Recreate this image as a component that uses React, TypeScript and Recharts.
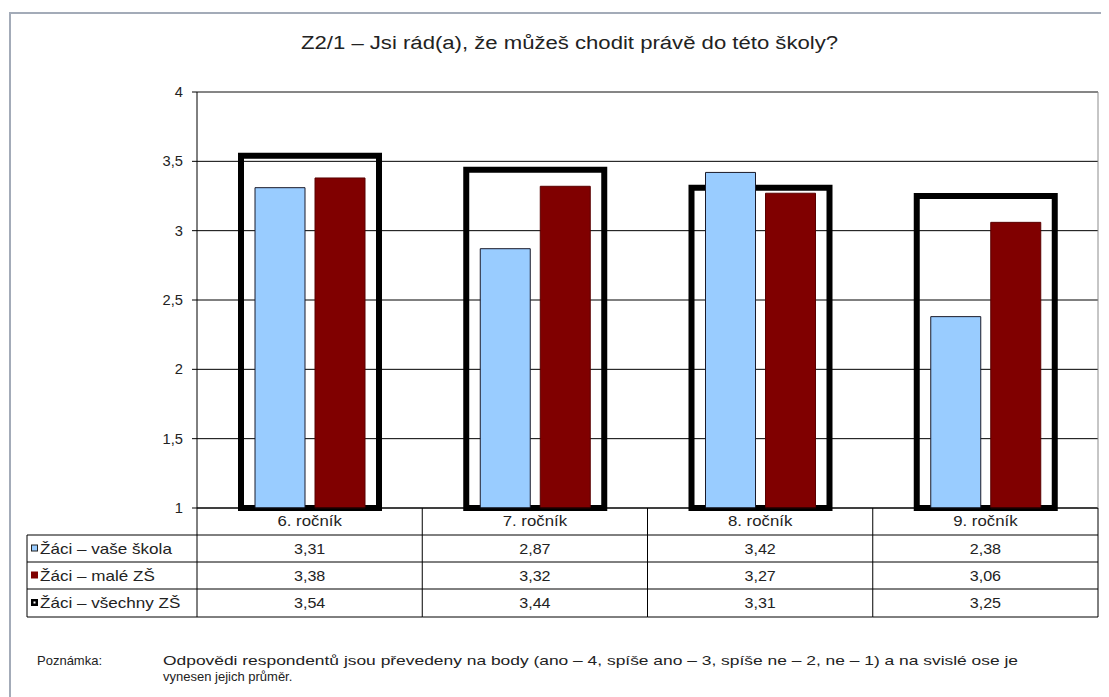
import React from 'react';
import { BarChart, Bar, XAxis, YAxis, CartesianGrid, ReferenceLine } from 'recharts';

const categories = ['6. ročník', '7. ročník', '8. ročník', '9. ročník'];
const vaseSkola = [3.31, 2.87, 3.42, 2.38];
const maleZS = [3.38, 3.32, 3.27, 3.06];
const vsechnyZS = [3.54, 3.44, 3.31, 3.25];
const seriesNames = ['Žáci – vaše škola', 'Žáci – malé ZŠ', 'Žáci – všechny ZŠ'];
const yTicks = [1, 1.5, 2, 2.5, 3, 3.5, 4];
const title = 'Z2/1 – Jsi rád(a), že můžeš chodit právě do této školy?';
const noteLabel = 'Poznámka:';
const noteLines = [
  'Odpovědi respondentů jsou převedeny na body (ano – 4, spíše ano – 3, spíše ne – 2, ne – 1) a na svislé ose je',
  'vynesen jejich průměr.',
];

const data = categories.map((c, i) => ({
  cat: c,
  vase: vaseSkola[i],
  male: maleZS[i],
  vsechny: vsechnyZS[i],
}));

const W = 1109;
const H = 697;
const PLOT_L = 197;
const PLOT_R = 1098;
const PLOT_T = 92;
const PLOT_B = 508;
const TABLE_H = 109;
const CW = (PLOT_R - PLOT_L) / categories.length;
const ROWS = [0, 27, 54, 81, 109];
const LEG_W = 170;
const FONT = '"Liberation Sans", Arial, sans-serif';
const TXT = '#222';

const fmt = (v: number) => String(v).replace('.', ',');

const Txt = ({ x, y, anchor, size, sx, children }: any) => (
  <text
    transform={`translate(${x},${y}) scale(${sx},1)`}
    textAnchor={anchor}
    fontSize={size}
    fontFamily={FONT}
    fill={TXT}
  >
    {children}
  </text>
);

const TableTick = (props: any) => {
  const { x, payload, index } = props;
  const y = PLOT_B;
  const left = x - CW / 2;
  const right = x + CW / 2;
  const vals = [vaseSkola[index], maleZS[index], vsechnyZS[index]];
  const els: any[] = [];
  els.push(<line key="r" x1={right} y1={y} x2={right} y2={y + TABLE_H} stroke="#000" />);
  if (index === 0) {
    els.push(<line key="l" x1={left} y1={y} x2={left} y2={y + TABLE_H} stroke="#000" />);
    const ll = left - LEG_W;
    els.push(<line key="ll" x1={ll} y1={y + ROWS[1]} x2={ll} y2={y + TABLE_H} stroke="#000" />);
    for (let r = 1; r < ROWS.length; r++) {
      els.push(<line key={'lh' + r} x1={ll} y1={y + ROWS[r]} x2={left} y2={y + ROWS[r]} stroke="#000" />);
    }
    seriesNames.forEach((n, si) => {
      const cy = y + (ROWS[si + 1] + ROWS[si + 2]) / 2;
      if (si === 0) {
        els.push(<rect key={'m' + si} x={ll + 4.5} y={cy - 3.5} width={6} height={6} fill="#99CCFF" stroke="#222" strokeWidth={1} />);
      } else if (si === 1) {
        els.push(<rect key={'m' + si} x={ll + 4} y={cy - 4} width={7} height={7} fill="#800000" />);
      } else {
        els.push(<rect key={'m' + si} x={ll + 4} y={cy - 4} width={7} height={7} fill="#000" />);
        els.push(<rect key={'mi' + si} x={ll + 6.5} y={cy - 1.5} width={2} height={2} fill="#fff" />);
      }
      els.push(
        <Txt key={'lt' + si} x={ll + 13} y={cy + 5} anchor="start" size={14} sx={1.22}>
          {n}
        </Txt>
      );
    });
  }
  for (let r = 1; r < ROWS.length; r++) {
    els.push(<line key={'h' + r} x1={left} y1={y + ROWS[r]} x2={right} y2={y + ROWS[r]} stroke="#000" />);
  }
  els.push(
    <Txt key="c" x={x} y={y + 18} anchor="middle" size={14} sx={1.2}>
      {payload.value}
    </Txt>
  );
  vals.forEach((v, si) => {
    const cy = y + (ROWS[si + 1] + ROWS[si + 2]) / 2;
    els.push(
      <Txt key={'v' + si} x={x} y={cy + 5} anchor="middle" size={14} sx={1.15}>
        {fmt(v)}
      </Txt>
    );
  });
  return <g>{els}</g>;
};

const YTick = (props: any) => {
  const { x, y, payload } = props;
  return (
    <Txt x={x} y={y + 5} anchor="end" size={14} sx={1.05}>
      {fmt(payload.value)}
    </Txt>
  );
};

export default function App() {
  return (
    <div style={{ position: 'relative', width: W, height: H, margin: '-8px 0 0 -8px', overflow: 'hidden', background: '#fff' }}>
      <div
        style={{
          position: 'absolute',
          left: 9,
          top: 12,
          width: W,
          height: H,
          borderTop: '2px solid #a3abb8',
          borderLeft: '2px solid #a3abb8',
        }}
      />
      <div style={{ position: 'absolute', left: 0, top: 0 }}>
        <BarChart
          width={W}
          height={H}
          data={data}
          margin={{ top: PLOT_T, left: 0, right: W - PLOT_R - 1, bottom: H - PLOT_B - TABLE_H }}
          barGap={10}
        >
          <CartesianGrid xAxisId="a" yAxisId="l" vertical={false} stroke="#000" />
          <XAxis
            xAxisId="a"
            dataKey="cat"
            height={TABLE_H}
            tickSize={0}
            tickMargin={0}
            tickLine={false}
            axisLine={{ stroke: '#000' }}
            interval={0}
            tick={(p: any) => <TableTick {...p} />}
          />
          <XAxis xAxisId="b" dataKey="cat" hide />
          <YAxis
            yAxisId="l"
            type="number"
            domain={[1, 4]}
            ticks={yTicks}
            interval={0}
            width={PLOT_L}
            tickSize={5}
            tickMargin={9}
            axisLine={{ stroke: '#000' }}
            tickLine={{ stroke: '#000' }}
            tick={(p: any) => <YTick {...p} />}
          />
          <YAxis
            yAxisId="r"
            orientation="right"
            type="number"
            domain={[1, 4]}
            width={1}
            tick={false}
            tickLine={false}
            axisLine={{ stroke: '#8c8c8c' }}
          />
          <ReferenceLine xAxisId="a" yAxisId="l" y={4} stroke="#8c8c8c" />
          <Bar
            xAxisId="b"
            yAxisId="l"
            dataKey="vsechny"
            name={seriesNames[2]}
            fill="none"
            stroke="#000"
            strokeWidth={6}
            barSize={138}
            isAnimationActive={false}
          />
          <Bar
            xAxisId="a"
            yAxisId="l"
            dataKey="vase"
            name={seriesNames[0]}
            fill="#99CCFF"
            stroke="#1a1a2a"
            strokeWidth={1}
            barSize={50}
            isAnimationActive={false}
          />
          <Bar
            xAxisId="a"
            yAxisId="l"
            dataKey="male"
            name={seriesNames[1]}
            fill="#800000"
            stroke="#5a0000"
            strokeWidth={1}
            barSize={50}
            isAnimationActive={false}
          />
        </BarChart>
      </div>
      <svg width={W} height={H} style={{ position: 'absolute', left: 0, top: 0, pointerEvents: 'none' }}>
        <text x={301} y={49} fontSize={18} fontFamily={FONT} fill={TXT} textLength={537} lengthAdjust="spacingAndGlyphs">
          {title}
        </text>
        <text x={37} y={665} fontSize={13} fontFamily={FONT} fill={TXT}>
          {noteLabel}
        </text>
        <text x={163} y={665} fontSize={13} fontFamily={FONT} fill={TXT} textLength={855} lengthAdjust="spacingAndGlyphs">
          {noteLines[0]}
        </text>
        <text x={163} y={681} fontSize={13} fontFamily={FONT} fill={TXT}>
          {noteLines[1]}
        </text>
      </svg>
    </div>
  );
}
